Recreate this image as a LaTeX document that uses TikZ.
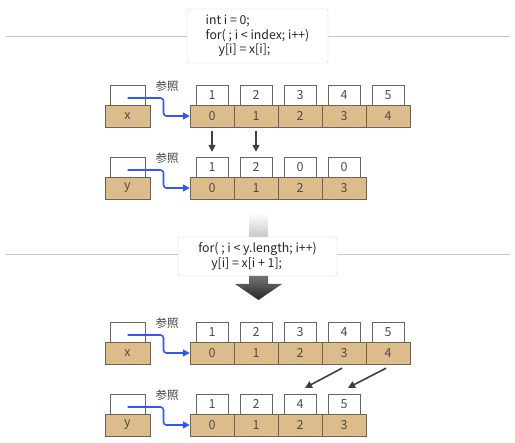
\documentclass[tikz,border=0pt]{standalone}
\usepackage{fontspec}
\setmainfont{Noto Sans CJK JP}
\usetikzlibrary{arrows.meta}
\usetikzlibrary{calc}

\definecolor{celltan}{HTML}{DDBC8C}
\definecolor{cellline}{HTML}{6E6456}
\definecolor{refblue}{HTML}{3355FF}

\tikzset{
  idx/.style={draw=cellline, fill=celltan, minimum width=44pt, minimum height=22pt,
    inner sep=0pt, text=black!70, font=\fontsize{12.5}{12.5}\selectfont},
  val/.style={draw=black!60, fill=white, minimum width=32pt, minimum height=20pt,
    inner sep=0pt, text=black!70, font=\fontsize{12.5}{12.5}\selectfont},
  refbox/.style={val, minimum width=35pt},
  namebox/.style={idx, minimum width=45pt},
  refnote/.style={text=black!75, font=\fontsize{11.5}{11.5}\selectfont},
  refarrow/.style={draw=refblue, line width=1.6pt, rounded corners=3pt,
    -{Triangle[length=7pt,width=7pt]}},
  copyarrow/.style={draw=black!75, line width=1.6pt, -{Triangle[length=7pt,width=7pt]}},
  codebox/.style={draw=black!20, fill=white, rounded corners=2pt, align=left,
    inner xsep=4pt, inner ysep=0pt, text=black!85,
    font=\fontsize{12.3}{14.5}\selectfont},
  sepline/.style={draw=black!22, line width=0.6pt}
}

\begin{document}
\begin{tikzpicture}[x=1pt, y=-1pt]
  \useasboundingbox (0,0) rectangle (515,443);

  \draw[sepline] (6,36) -- (510,36);
  \node[codebox, minimum width=141pt, minimum height=54pt] (loopA) at (257.5,36)
    {int i = 0;\\for( ; i < index; i++)\\\hspace*{13pt}y[i] = x[i];};

  \foreach \g/\top/\yvals in {0/85/{1,2,0,0}, 1/322/{1,2,4,5}} {
    \node[refbox] (xref\g) at (127.5,\top+10) {};
    \node[namebox] (xname\g) at (127.5,\top+31) {x};
    \node[refbox] (yref\g) at (127.5,\top+82) {};
    \node[namebox] (yname\g) at (127.5,\top+103) {y};
    \node[refnote] at (167,\top+1) {参照};
    \node[refnote] at (167,\top+73) {参照};
    \foreach \v [count=\i from 0] in {1,2,3,4,5} {
      \node[val] (xv\g-\i) at (212+44*\i,\top+10) {\v};
      \node[idx] (xi\g-\i) at (212+44*\i,\top+31) {\i};
    }
    \foreach \v [count=\i from 0] in \yvals {
      \node[val] (yv\g-\i) at (212+44*\i,\top+82) {\v};
      \node[idx] (yi\g-\i) at (212+44*\i,\top+103) {\i};
    }
    \draw[refarrow] ($(xref\g.center)+(0,3)$) -- ++(36,0) |- (xi\g-0.west);
    \draw[refarrow] ($(yref\g.center)+(0,3)$) -- ++(36,0) |- (yi\g-0.west);
    \ifnum \g < 1
      \draw[copyarrow, shorten <=4pt, shorten >=5pt] (xi\g-0.south) -- (yv\g-0.north);
      \draw[copyarrow, shorten <=4pt, shorten >=5pt] (xi\g-1.south) -- (yv\g-1.north);
    \else
      \draw[copyarrow] ($(xi\g-3.south)+(-2,4)$) -- ($(yv\g-2.north)+(5,-6)$);
      \draw[copyarrow] ($(xi\g-4.south)+(-2,4)$) -- ($(yv\g-3.north)+(4,-6)$);
    \fi
  }

  \shade[top color=white, bottom color=black!25] (249,213) rectangle (268,240);
  \draw[sepline] (6,254) -- (510,254);
  \node[codebox, minimum width=159pt, minimum height=39pt] (loopB) at (257.5,256.5)
    {for( ; i < y.length; i++)\\\hspace*{13pt}y[i] = x[i + 1];};
  \shade[top color=black!55, bottom color=black!85]
    (249,276) -- (268,276) -- (268,284) -- (282,284) -- (258.5,300)
    -- (235,284) -- (249,284) -- cycle;
\end{tikzpicture}
\end{document}
